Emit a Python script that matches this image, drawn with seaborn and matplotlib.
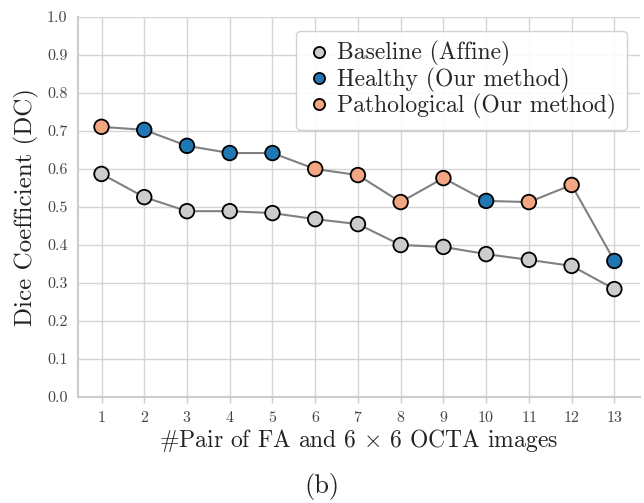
import matplotlib
matplotlib.use("Agg")
import matplotlib.pyplot as plt
import seaborn as sns
import pandas as pd

pairs = list(range(1, 14))
baseline = [0.587, 0.526, 0.489, 0.489, 0.484, 0.468, 0.455, 0.400, 0.395, 0.376, 0.361, 0.345, 0.284]
ours = [0.711, 0.703, 0.661, 0.642, 0.642, 0.600, 0.584, 0.513, 0.576, 0.516, 0.513, 0.558, 0.358]
ours_type = ["P", "H", "H", "H", "H", "P", "P", "P", "P", "H", "P", "P", "H"]
labels = {"B": "Baseline (Affine)", "H": "Healthy (Our method)", "P": "Pathological (Our method)"}
colors = {"Baseline (Affine)": "#cccccc", "Healthy (Our method)": "#1f77b4",
          "Pathological (Our method)": "#f4a582"}

sns.set_theme(style="whitegrid")
plt.rcParams["font.family"] = ["cmr10"]
plt.rcParams["mathtext.fontset"] = "cm"
plt.rcParams["axes.formatter.use_mathtext"] = True

df_b = pd.DataFrame({"pair": pairs, "dc": baseline, "group": labels["B"]})
df_o = pd.DataFrame({"pair": pairs, "dc": ours, "group": [labels[t] for t in ours_type]})
df_pts = pd.concat([df_b, df_o], ignore_index=True)

fig = plt.figure(figsize=(6.44, 5.03), dpi=100)
ax = fig.add_axes([78/644, 1 - 397/503, 562/644, 380/503])

sns.lineplot(x="pair", y="dc", data=df_b, color="#808080", lw=1.5, ax=ax, zorder=2)
sns.lineplot(x="pair", y="dc", data=df_o, color="#808080", lw=1.5, ax=ax, zorder=2)
sns.scatterplot(x="pair", y="dc", hue="group", data=df_pts, palette=colors,
                hue_order=list(colors.keys()), s=110, edgecolor="black", linewidth=1.3,
                ax=ax, zorder=3)

ax.set_xlim(0.45, 13.6)
ax.set_ylim(0, 1.0)
ax.set_xticks(pairs)
ax.set_yticks([i / 10 for i in range(11)])
ax.set_yticklabels([f"{i/10:.1f}" for i in range(11)])
ax.tick_params(labelsize=11.5, colors="#444444", length=4, color="#cccccc", width=1,
               bottom=True, left=False)
ax.tick_params(axis="x", pad=5)
ax.set_xlabel(r"#Pair of FA and 6 $\times$ 6 OCTA images", fontsize=17, color="#222222",
              labelpad=2)
ax.set_ylabel("Dice Coefficient (DC)", fontsize=18, color="#222222", labelpad=6)
for s in ["top", "right"]:
    ax.spines[s].set_visible(False)
for s in ["left", "bottom"]:
    ax.spines[s].set_color("#cccccc")
    ax.spines[s].set_linewidth(1.5)
ax.grid(color="#d5d5d5", lw=1)

leg = ax.legend(loc="upper right", fontsize=17, handletextpad=0.3, borderpad=0.45,
                labelspacing=0.05, handlelength=1.0, framealpha=0.9,
                bbox_to_anchor=(0.998, 0.995))
for h in leg.legend_handles:
    try:
        h.set_markersize(8)
        h.set_markeredgecolor("black")
        h.set_markeredgewidth(1.3)
    except AttributeError:
        pass

fig.text(0.5, 1 - 487/503, "(b)", ha="center", va="center", fontsize=19, color="#222222")
fig.savefig("out.png", dpi=100)
